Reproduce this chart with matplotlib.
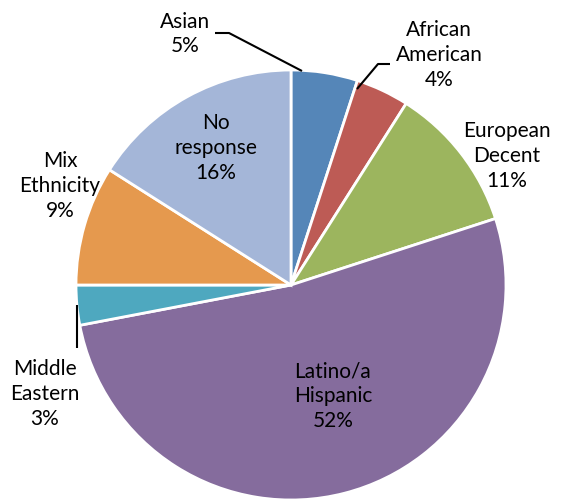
import matplotlib
matplotlib.use("Agg")
import matplotlib.pyplot as plt

categories = ["Asian", "African\nAmerican", "European\nDecent", "Latino/a\nHispanic",
              "Middle\nEastern", "Mix\nEthnicity", "No\nresponse"]
values = [5, 4, 11, 52, 3, 9, 16]
colors = ["#5586b8", "#bd5b55", "#9cb55e", "#856c9d", "#4ea8bf", "#e5994e", "#a4b6d8"]

W, H = 563, 504
fig = plt.figure(figsize=(W / 100, H / 100), dpi=100)
ax = fig.add_axes([0, 0, 1, 1])

cx, cy, r = 291, H - 285, 215
ax.pie(values, colors=colors, startangle=90, counterclock=False, center=(cx, cy),
       radius=r, frame=True, wedgeprops=dict(edgecolor="white", linewidth=2))
ax.set_xlim(0, W)
ax.set_ylim(0, H)
ax.axis("off")

# label layout (pixel coords from top-left)
label_pos = [(185, 34), (439, 55), (507, 156), (333, 396), (45, 394), (60, 186), (216, 148)]
font = dict(family=["Lato", "DejaVu Sans"], fontsize=15, color="black",
            ha="center", va="center", linespacing=1.3)
for cat, v, (x, y) in zip(categories, values, label_pos):
    ax.text(x, H - y, f"{cat}\n{v}%", **font)

# leader lines
leaders = [[(215, 33), (229, 33), (302, 71)],
           [(357, 89), (378, 64), (390, 64)],
           [(77, 305), (77, 348)]]
for pts in leaders:
    xs = [p[0] for p in pts]
    ys = [H - p[1] for p in pts]
    ax.plot(xs, ys, color="black", lw=1.5, solid_capstyle="butt")

fig.savefig("out.png", dpi=100)
